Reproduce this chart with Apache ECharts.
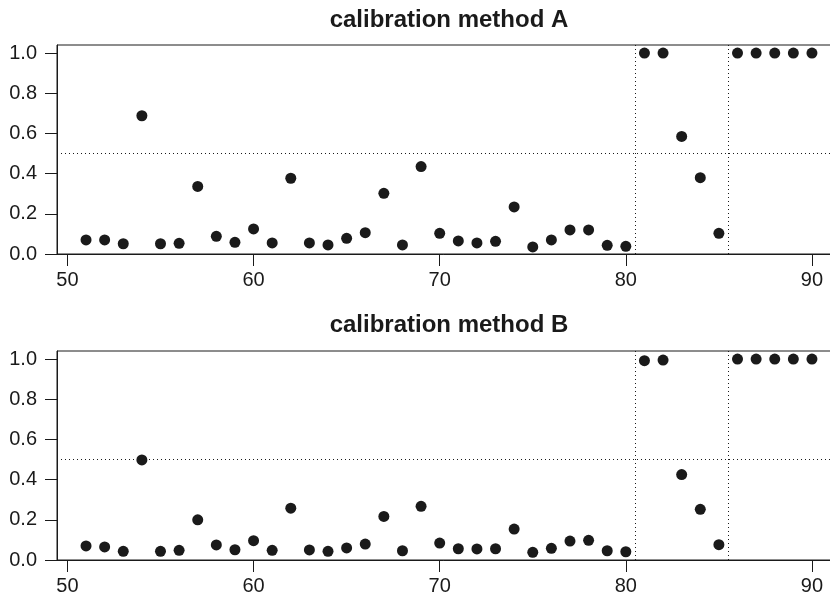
<!DOCTYPE html>
<html>
<head>
<meta charset="utf-8">
<script src="https://cdn.jsdelivr.net/npm/echarts@6/dist/echarts.min.js"></script>
<style>
  html, body { margin: 0; padding: 0; background: #fff; }
  #chart { width: 830px; height: 595px; }
</style>
</head>
<body>
<div id="chart"></div>
<script>
// x positions 51..90
const xs = [51, 52, 53, 54, 55, 56, 57, 58, 59, 60, 61, 62, 63, 64, 65, 66, 67, 68, 69, 70,
            71, 72, 73, 74, 75, 76, 77, 78, 79, 80, 81, 82, 83, 84, 85, 86, 87, 88, 89, 90];
// calibration method A
const methodA = [0.07, 0.07, 0.051, 0.688, 0.051, 0.053, 0.336, 0.088, 0.058, 0.125,
                 0.055, 0.377, 0.055, 0.045, 0.078, 0.106, 0.302, 0.045, 0.435, 0.103,
                 0.065, 0.055, 0.063, 0.234, 0.035, 0.07, 0.12, 0.12, 0.043, 0.038,
                 1.0, 1.0, 0.585, 0.38, 0.103, 1.0, 1.0, 1.0, 1.0, 1.0];
// calibration method B
const methodB = [0.07, 0.065, 0.043, 0.498, 0.043, 0.048, 0.2, 0.075, 0.051, 0.096,
                 0.048, 0.258, 0.05, 0.043, 0.06, 0.079, 0.217, 0.046, 0.267, 0.084,
                 0.056, 0.055, 0.056, 0.154, 0.038, 0.058, 0.094, 0.098, 0.046, 0.041,
                 0.992, 0.995, 0.425, 0.252, 0.076, 1.0, 1.0, 1.0, 1.0, 1.0];
const titles = ['calibration method A', 'calibration method B'];
const xTicks = [50, 60, 70, 80, 90];
const yTicks = [0, 0.2, 0.4, 0.6, 0.8, 1.0];
const hLine = 0.5;
const vLines = [80.5, 85.5];

const ink = '#1a1a1a';
const font = 'Liberation Sans, Arial, Helvetica, sans-serif';
// plot box runs past the right edge of the page, as in the original
const grids = [
  { left: 57, width: 784, top: 45, height: 209 },
  { left: 57, width: 784, top: 351, height: 209 }
];

function xAxisOf (i) {
  return {
    gridIndex: i, type: 'value', min: 49.44, max: 91.56,
    splitLine: { show: false },
    axisLine: { show: true, onZero: false, lineStyle: { color: ink, width: 1 } },
    axisTick: { show: true, length: 12, customValues: xTicks, lineStyle: { color: ink } },
    axisLabel: { customValues: xTicks, color: ink, fontSize: 20, fontFamily: font, margin: 16 }
  }
}

function yAxisOf (i) {
  return {
    gridIndex: i, type: 'value', min: 0, max: 1.04,
    splitLine: { show: false },
    axisLine: { show: true, lineStyle: { color: ink, width: 1 } },
    axisTick: { show: true, length: 12, customValues: yTicks, lineStyle: { color: ink } },
    axisLabel: {
      customValues: yTicks, color: ink, fontSize: 20, fontFamily: font, margin: 20,
      formatter: v => Number(v).toFixed(1)
    }
  }
}

function seriesOf (i, vals) {
  let lineStyle = { color: ink, type: [1, 3], width: 1 }
  return {
    type: 'scatter', xAxisIndex: i, yAxisIndex: i,
    data: xs.map((x, k) => [x, vals[k]]),
    symbolSize: 11,
    itemStyle: { color: ink, opacity: 1 },
    markLine: {
      silent: true, symbol: 'none', animation: false,
      label: { show: false },
      lineStyle,
      data: [{ yAxis: hLine }].concat(vLines.map(v => ({ xAxis: v })))
    }
  }
}

const chart = echarts.init(document.getElementById('chart'), null, { renderer: 'canvas' });
chart.setOption({
  animation: false,
  backgroundColor: '#fff',
  grid: grids.map(g => Object.assign({
    show: true, borderColor: ink, borderWidth: 1, backgroundColor: 'transparent',
    containLabel: false, outerBoundsMode: 'none'
  }, g)),
  xAxis: [xAxisOf(0), xAxisOf(1)],
  yAxis: [yAxisOf(0), yAxisOf(1)],
  graphic: titles.map((t, i) => ({
    type: 'text', x: 449, y: i === 0 ? 20 : 325,
    style: { text: t, fill: ink, font: 'bold 24px ' + font, textAlign: 'center', textVerticalAlign: 'middle' }
  })),
  series: [seriesOf(0, methodA), seriesOf(1, methodB)]
});
</script>
</body>
</html>
